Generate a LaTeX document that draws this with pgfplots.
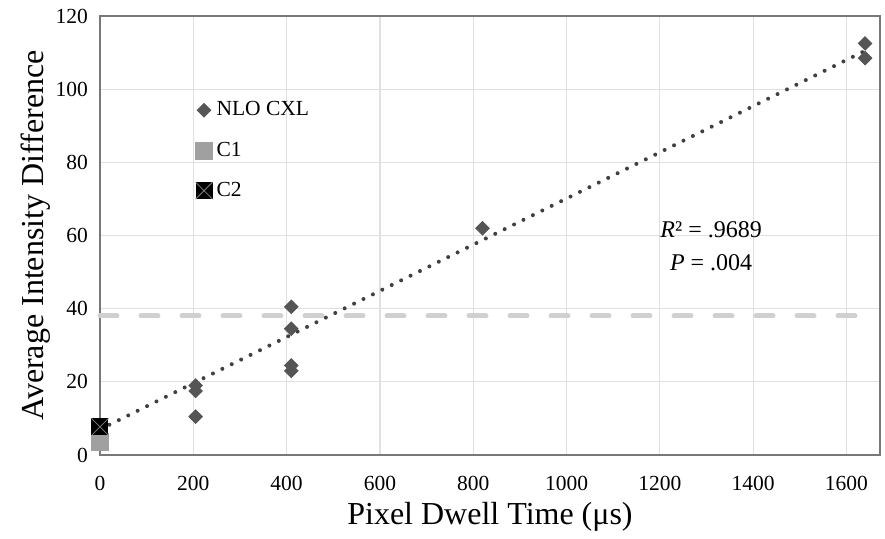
\documentclass[border=0pt]{standalone}
\usepackage{fontspec}
\setmainfont{Liberation Serif}
\usepackage{pgfplots}
\pgfplotsset{compat=1.18}
\definecolor{nlo}{RGB}{85,85,85}
\definecolor{cone}{RGB}{160,160,160}
\definecolor{trend}{RGB}{64,64,64}
\definecolor{thresh}{RGB}{208,208,208}
\definecolor{gridc}{RGB}{224,224,224}
\definecolor{framec}{RGB}{120,120,120}

% black square crossed by thin grey diagonals (C2)
\pgfdeclareplotmark{sqx}{%
  \pgfpathrectangle{\pgfqpoint{-\pgfplotmarksize}{-\pgfplotmarksize}}{\pgfqpoint{2\pgfplotmarksize}{2\pgfplotmarksize}}%
  \pgfusepathqfill
  \pgfsetstrokecolor{gray}%
  \pgfsetlinewidth{0.4pt}%
  \pgfpathmoveto{\pgfqpoint{-\pgfplotmarksize}{-\pgfplotmarksize}}%
  \pgfpathlineto{\pgfqpoint{\pgfplotmarksize}{\pgfplotmarksize}}%
  \pgfpathmoveto{\pgfqpoint{-\pgfplotmarksize}{\pgfplotmarksize}}%
  \pgfpathlineto{\pgfqpoint{\pgfplotmarksize}{-\pgfplotmarksize}}%
  \pgfusepathqstroke
}

\begin{document}
\begin{tikzpicture}
\begin{axis}[
  scale only axis,
  width=390pt, height=219.5pt,
  xmin=0, xmax=1672, ymin=0, ymax=120,
  xtick={0,200,...,1600}, ytick={0,20,...,120},
  grid=major, grid style={draw=gridc, line width=0.6pt},
  axis line style={draw=framec, line width=0.7pt},
  major tick length=0pt,
  clip=false,
  /pgf/number format/assume math mode=true,
  /pgf/number format/1000 sep={},
  ticklabel style={font=\fontsize{10.75}{12}\selectfont},
  xticklabel style={yshift=-7pt},
  yticklabel style={xshift=-2.5pt},
  xlabel={Pixel Dwell Time (μs)},
  ylabel={Average Intensity Difference},
  xlabel style={yshift=1pt},
  ylabel style={yshift=-4pt},
  label style={font=\fontsize{16}{18}\selectfont},
  legend style={at={(0.122,0.815)}, anchor=north west, draw=none, fill=none,
    font=\fontsize{10.75}{12}\selectfont, row sep=7.5pt, inner sep=0pt},
  legend cell align=left,
  legend image code/.code={\draw[#1] plot coordinates {(0.2cm,0cm)};},
]
% threshold line
\addplot[thresh, line width=2.5pt, line cap=round, dash pattern=on 8.5pt off 12pt, forget plot]
  coordinates {(0,38) (1640,38)};
% linear trendline of NLO CXL
\addplot[trend, line width=2pt, line cap=round, dash pattern=on 0pt off 5.25pt, forget plot]
  coordinates {(0,7) (1640,110.5)};
\addplot[only marks, mark=square*, mark size=2.4pt, mark options={rotate=45, fill=nlo, draw=nlo}]
  coordinates {(205,19) (205,17.5) (205,10.5) (410,40.5) (410,34.5) (410,24.5) (410,23)
               (820,62) (1640,112.5) (1640,108.5)};
\addlegendentry{NLO CXL}
\addplot[only marks, mark=square*, mark size=4.25pt, mark options={fill=cone, draw=cone}]
  coordinates {(0,3.7)};
\addlegendentry{C1}
\addplot[only marks, mark=sqx, mark size=4.25pt, mark options={fill=black}]
  coordinates {(0,7.7)};
\addlegendentry{C2}
\node[align=center, font=\fontsize{12}{16.5}\selectfont] at (axis cs:1310,57)
  {\textit{R}² = .9689\\\textit{P} = .004};
\end{axis}
\pgfresetboundingbox
\path[use as bounding box] ([xshift=-50pt,yshift=-41.5pt]current axis.south west)
  rectangle ([xshift=392.5pt,yshift=227.5pt]current axis.south west);
\end{tikzpicture}
\end{document}
